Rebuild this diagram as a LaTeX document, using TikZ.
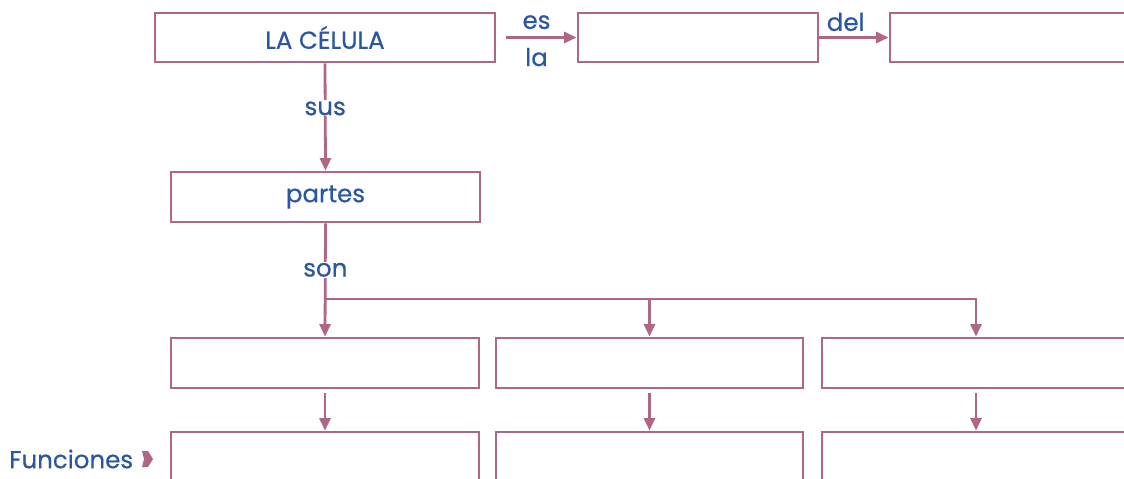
\documentclass[tikz,border=0pt]{standalone}
\usepackage{fontspec}
\setmainfont{Poppins}[FakeBold=0.6]
\usetikzlibrary{arrows.meta}
\definecolor{mauve}{RGB}{176,102,134}
\definecolor{txtblue}{RGB}{42,86,162}
\begin{document}
\begin{tikzpicture}[x=1pt,y=-1pt,
  box/.style={draw=mauve, line width=2.8pt, minimum width=#1, minimum height=49pt, inner sep=0pt, text=txtblue, font=\fontsize{24.5}{26}\selectfont},
  lbl/.style={text=txtblue, font=\fontsize{24.5}{26}\selectfont, inner sep=1pt},
  conn/.style={draw=mauve, line width=2.8pt, -{Triangle[length=12.5pt,width=11pt]}},
  plain/.style={draw=mauve, line width=2.8pt}]
\useasboundingbox (0,0) rectangle (1124,479);
\clip (0,0) rectangle (1124,479);
% top row
\node[box=340pt] (celula) at (325,37.5) {LA CÉLULA};
\node[box=240pt] (b2) at (698,37.5) {};
\node[box=310pt] (b3) at (1045,37.5) {};
\node[box=309pt, minimum height=50pt] (partes) at (325.5,197) {partes};
% second row
\node[box=308pt, minimum height=50pt] (r1a) at (325,363) {};
\node[box=307pt, minimum height=50pt] (r1b) at (649.5,363) {};
\node[box=308pt, minimum height=50pt] (r1c) at (976,363) {};
% third row
\node[box=308pt, minimum height=50pt] (r2a) at (325,457) {};
\node[box=307pt, minimum height=50pt] (r2b) at (649.5,457) {};
\node[box=308pt, minimum height=50pt] (r2c) at (976,457) {};
% connectors
\draw[conn, shorten <=10pt] (celula.east) -- node[lbl, above=6pt]{es} node[lbl, below=8pt]{la} (b2.west);
\draw[conn] (b2.east) -- node[lbl, above=4pt, pos=0.38]{del} (b3.west);
\draw[conn] (celula.south) -- node[lbl, fill=white, pos=0.42]{sus} (partes.north);
\coordinate (j) at (325.5,299);
\draw[conn] (partes.south) -- node[lbl, fill=white, pos=0.41]{son} (r1a.north);
\draw[conn] (j) -| (r1b.north);
\draw[conn] (j) -| (r1c.north);
\draw[conn, shorten <=4pt] (r1a.south) -- (r2a.north);
\draw[conn, shorten <=4pt] (r1b.south) -- (r2b.north);
\draw[conn, shorten <=4pt] (r1c.south) -- (r2c.north);
% Funciones
\node[lbl, anchor=west] (fun) at (8,459) {Funciones};
\fill[mauve] (142,451) -- (148,451) -- (153,459) -- (148,467) -- (142,467) -- (144,459) -- cycle;
\end{tikzpicture}
\end{document}
